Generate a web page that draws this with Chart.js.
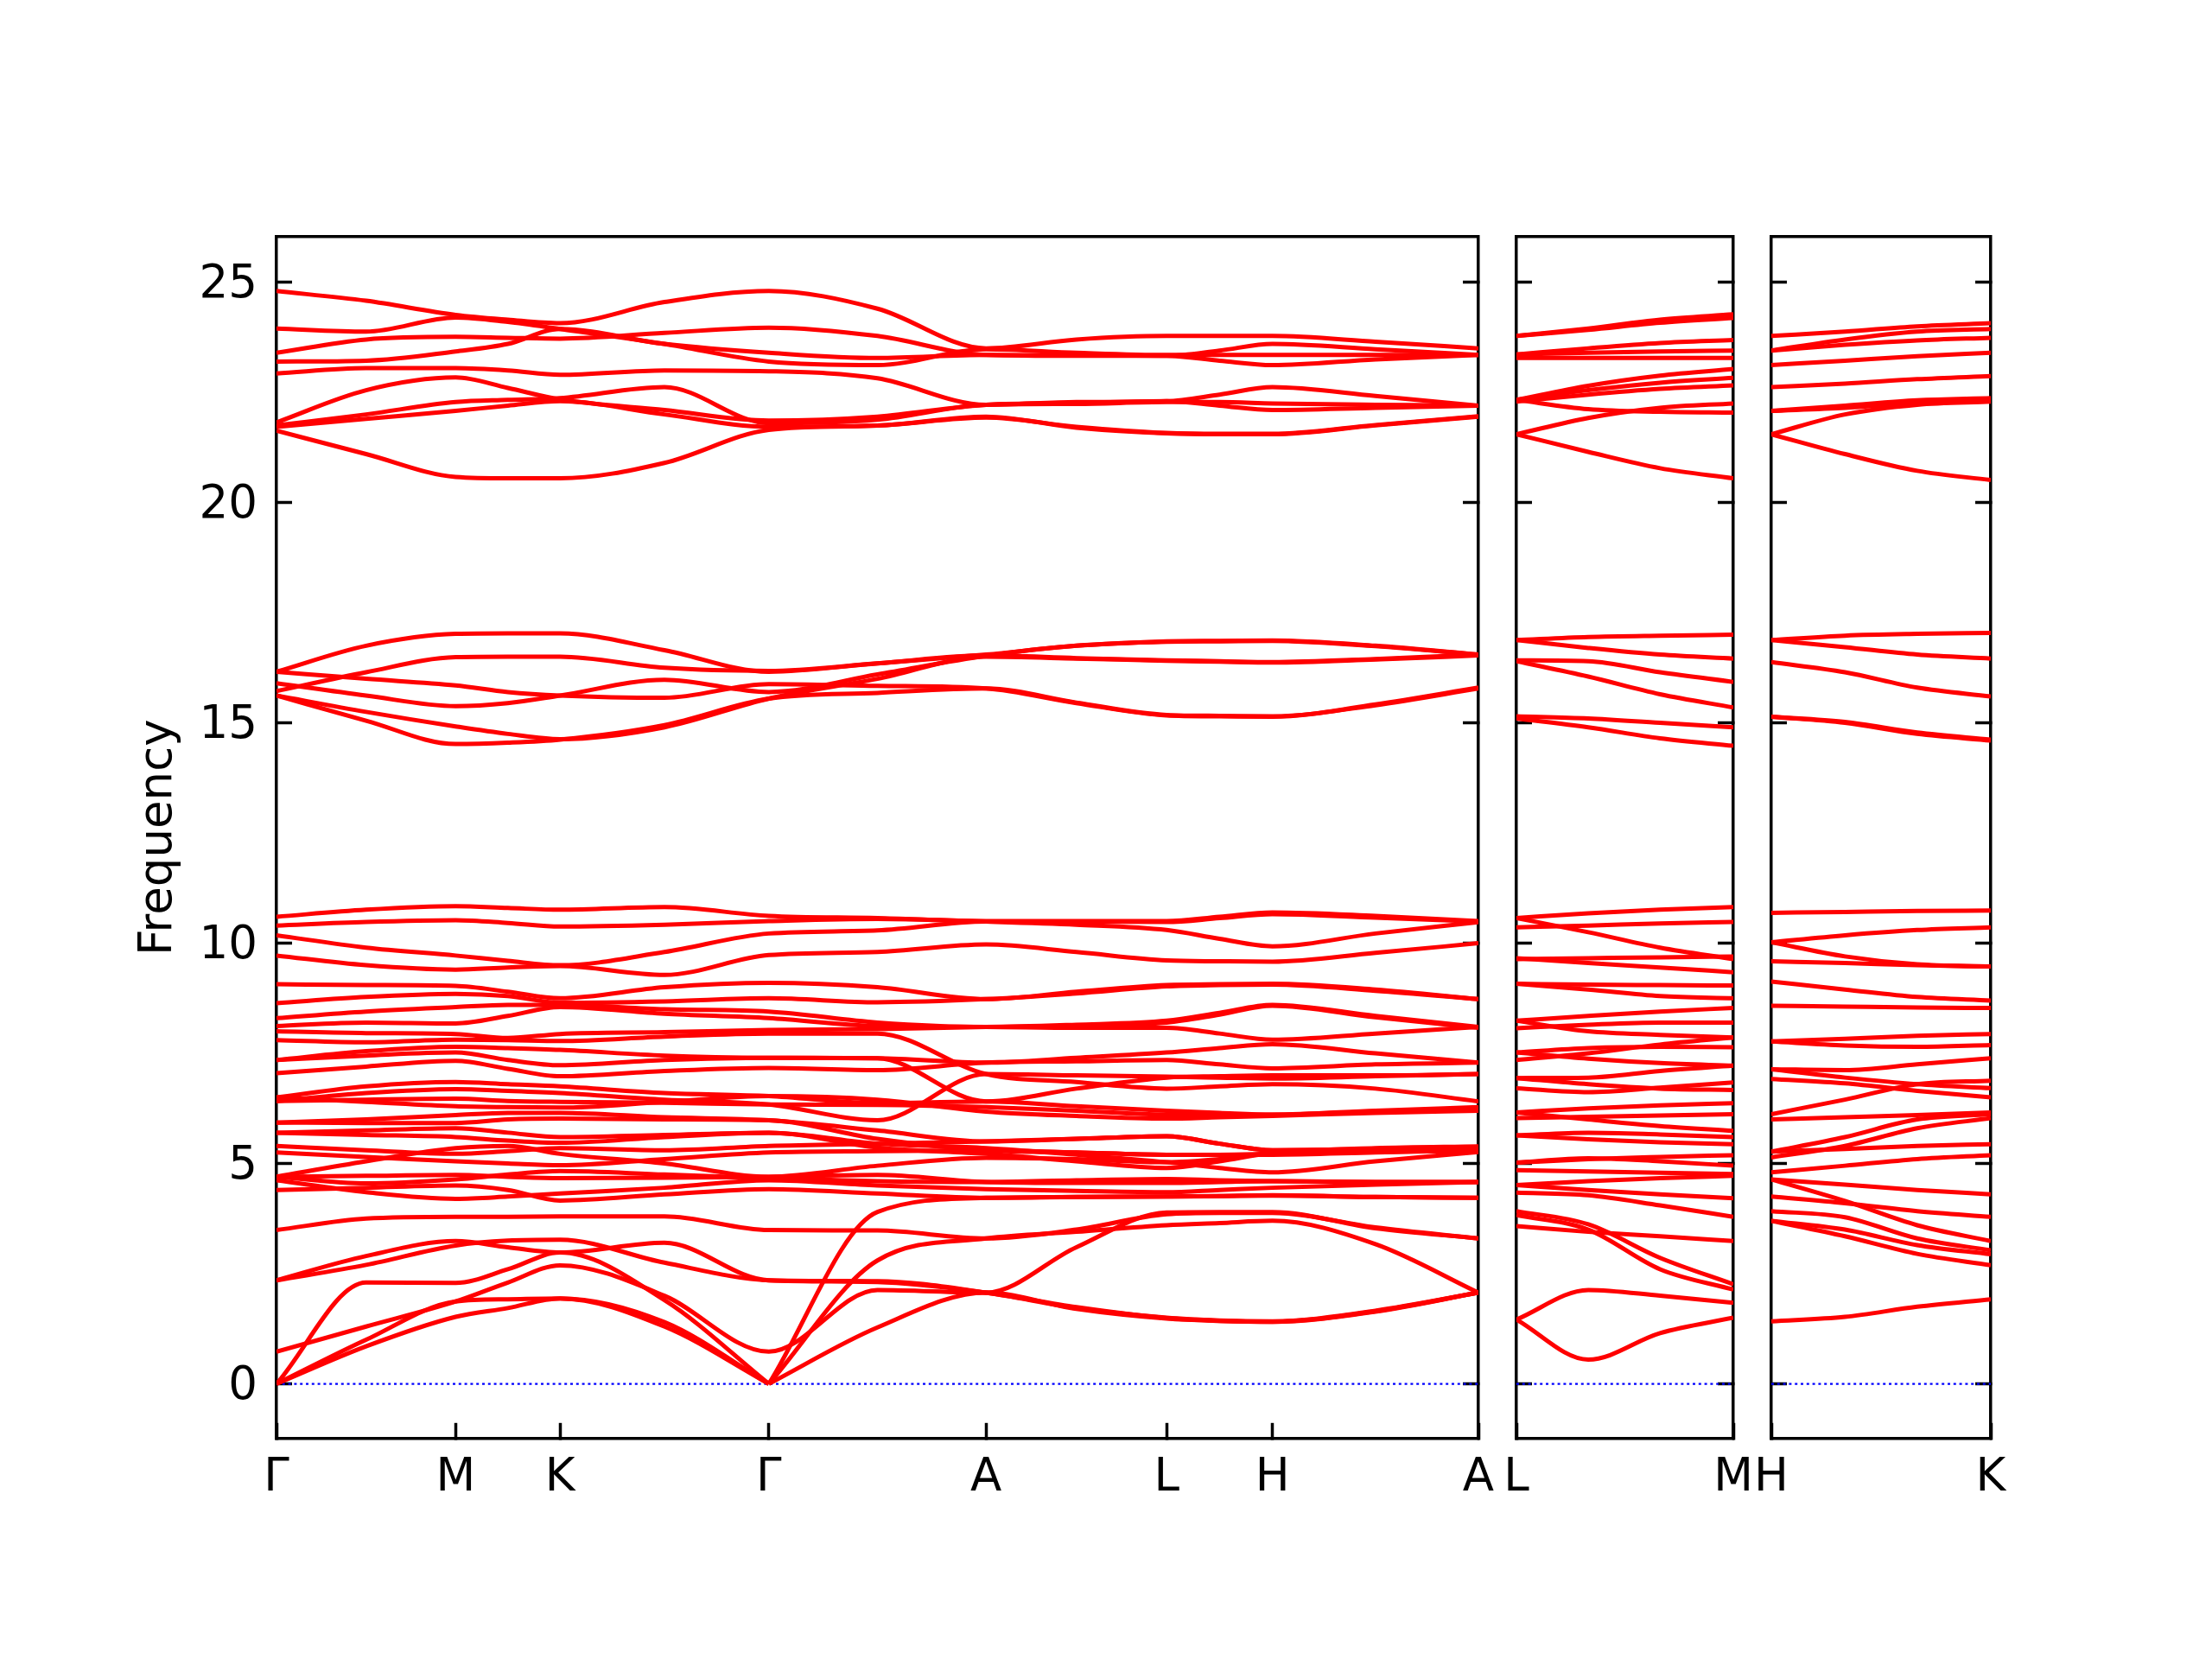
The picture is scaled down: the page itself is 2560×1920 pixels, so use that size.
<!DOCTYPE html>
<html>
<head>
<meta charset="utf-8">
<script src="https://cdn.jsdelivr.net/npm/chart.js@4.4.1/dist/chart.umd.min.js"></script>
<style>
  html, body { margin: 0; padding: 0; background: #fff; }
  #wrap { position: relative; width: 2560px; height: 1920px; background: #fff; }
  canvas { position: absolute; left: 0; top: 0; }
</style>
</head>
<body>
<div id="wrap">
  <canvas id="main" width="2560" height="1920"></canvas>
  <canvas id="lm" width="2560" height="1920"></canvas>
  <canvas id="hk" width="2560" height="1920"></canvas>
</div>
<script>
// frequency axis
const yMin = -1.24;
const yMax = 26.04;
const yTicks = [0, 5, 10, 15, 20, 25];

// main path: G-M-K-G-A-L-H-A (k distance of each sample)
const mainKnots = [0, 63.5, 127, 164, 201, 275, 349, 426, 503, 567, 631, 668.5, 706, 779, 852];
const mainTicks = [0, 127, 201, 349, 503, 631, 706, 852];
const mainLabels = ['Γ', 'M', 'K', 'Γ', 'A', 'L', 'H', 'A'];

// second path: L-M
const lmKnots = [0, 51, 102, 154];
const lmTicks = [0, 154];
const lmLabels = ['L', 'M'];

// third path: H-K
const hkKnots = [0, 52, 103, 155];
const hkTicks = [0, 155];
const hkLabels = ['H', 'K'];

// ---- main path bands, values at mainKnots ----
const mainHigh = [
  [24.80, 24.58, 24.26, 24.15, 24.07, 24.55, 24.80, 24.40, 23.50, 23.70, 23.78, 23.78, 23.78, 23.65, 23.50],
  [23.95, 23.88, 24.20, 24.10, 23.94, 23.60, 23.20, 23.12, 23.48, 23.40, 23.35, 23.35, 23.35, 23.35, 23.35],
  [23.40, 23.70, 23.76, 23.74, 23.72, 23.85, 23.97, 23.78, 23.35, 23.33, 23.33, 23.45, 23.60, 23.48, 23.35],
  [23.20, 23.22, 23.43, 23.60, 23.94, 23.60, 23.40, 23.28, 23.35, 23.34, 23.33, 23.22, 23.12, 23.25, 23.35],
  [22.93, 23.05, 23.05, 23.00, 22.90, 23.00, 22.98, 22.82, 22.22, 22.28, 22.30, 22.45, 22.62, 22.42, 22.20],
  [21.82, 22.55, 22.84, 22.60, 22.34, 22.10, 21.86, 21.95, 22.22, 22.26, 22.30, 22.20, 22.10, 22.15, 22.20],
  [21.75, 22.00, 22.28, 22.33, 22.37, 22.62, 21.80, 21.88, 22.22, 22.24, 22.28, 22.28, 22.25, 22.22, 22.20],
  [21.72, 21.90, 22.08, 22.20, 22.30, 22.00, 21.72, 21.75, 21.95, 21.70, 21.57, 21.55, 21.55, 21.75, 21.95],
  [21.63, 21.10, 20.58, 20.55, 20.55, 20.90, 21.65, 21.75, 21.93, 21.72, 21.58, 21.56, 21.56, 21.76, 21.96]
];

const mainMid = [
  [16.16, 16.75, 17.02, 17.03, 17.03, 16.65, 16.16, 16.35, 16.55, 16.75, 16.85, 16.86, 16.87, 16.75, 16.55],
  [15.72, 16.15, 16.49, 16.50, 16.50, 16.25, 16.18, 16.35, 16.53, 16.47, 16.42, 16.40, 16.38, 16.45, 16.55],
  [16.16, 16.00, 15.85, 15.70, 15.62, 15.57, 15.88, 15.84, 15.78, 15.45, 15.17, 15.15, 15.14, 15.42, 15.80],
  [15.90, 15.62, 15.38, 15.45, 15.62, 15.98, 15.70, 16.10, 16.52, 16.75, 16.84, 16.85, 16.86, 16.74, 16.55],
  [15.62, 15.25, 14.92, 14.75, 14.63, 14.90, 15.55, 16.00, 16.50, 16.46, 16.41, 16.39, 16.37, 16.44, 16.53],
  [15.62, 15.05, 14.52, 14.55, 14.62, 14.95, 15.55, 15.68, 15.78, 15.46, 15.18, 15.16, 15.15, 15.40, 15.78]
];

const mainLow = [
  [10.60, 10.76, 10.84, 10.80, 10.76, 10.82, 10.62, 10.57, 10.50, 10.50, 10.50, 10.60, 10.70, 10.62, 10.50],
  [10.40, 10.48, 10.52, 10.46, 10.38, 10.42, 10.50, 10.55, 10.49, 10.42, 10.30, 10.10, 9.93, 10.22, 10.48],
  [10.18, 9.90, 9.72, 9.60, 9.50, 9.80, 10.22, 10.29, 10.49, 10.49, 10.48, 10.57, 10.66, 10.58, 10.49],
  [9.72, 9.50, 9.40, 9.45, 9.48, 9.28, 9.73, 9.80, 9.97, 9.80, 9.61, 9.59, 9.58, 9.78, 10.00],
  [9.07, 9.05, 9.03, 8.90, 8.75, 9.00, 9.10, 9.00, 8.73, 8.90, 9.05, 9.07, 9.08, 8.95, 8.73],
  [8.64, 8.78, 8.85, 8.80, 8.65, 8.68, 8.75, 8.66, 8.73, 8.86, 9.02, 9.05, 9.06, 8.92, 8.73],
  [8.30, 8.45, 8.55, 8.60, 8.60, 8.50, 8.45, 8.20, 8.10, 8.15, 8.24, 8.42, 8.60, 8.35, 8.10],
  [8.12, 8.20, 8.18, 8.35, 8.55, 8.40, 8.30, 8.12, 8.10, 8.08, 8.08, 7.95, 7.81, 7.95, 8.10],
  [8.00, 7.96, 7.94, 7.85, 7.94, 7.98, 8.03, 8.05, 8.10, 8.12, 8.20, 8.38, 8.58, 8.32, 8.08],
  [7.80, 7.75, 7.81, 7.80, 7.78, 7.88, 7.95, 7.95, 7.03, 6.85, 6.70, 6.75, 6.80, 6.70, 6.41],
  [7.35, 7.45, 7.52, 7.35, 7.23, 7.35, 7.40, 7.39, 6.41, 6.70, 6.95, 6.98, 7.00, 7.00, 7.03],
  [7.05, 7.20, 7.33, 7.15, 6.98, 7.10, 7.17, 7.12, 7.29, 7.32, 7.35, 7.25, 7.16, 7.25, 7.29],
  [6.50, 6.75, 6.85, 6.80, 6.75, 6.60, 6.53, 6.37, 6.41, 6.30, 6.20, 6.15, 6.11, 6.20, 6.28],
  [6.42, 6.60, 6.69, 6.65, 6.60, 6.45, 6.34, 5.98, 7.03, 7.00, 6.97, 6.95, 6.93, 6.98, 7.03],
  [7.35, 7.55, 7.65, 7.62, 7.58, 7.45, 7.40, 7.39, 7.29, 7.40, 7.52, 7.62, 7.71, 7.50, 7.29],
  [6.42, 6.45, 6.47, 6.42, 6.40, 6.38, 6.34, 6.33, 6.28, 6.20, 6.11, 6.11, 6.11, 6.18, 6.24],
  [6.50, 6.40, 6.30, 6.28, 6.27, 6.40, 6.53, 6.45, 6.18, 6.08, 6.02, 6.05, 6.08, 6.15, 6.20],
  [5.93, 6.00, 6.10, 6.15, 6.15, 6.05, 5.98, 5.75, 5.50, 5.56, 5.62, 5.45, 5.30, 5.32, 5.36],
  [5.93, 5.92, 5.92, 6.00, 6.02, 6.00, 5.98, 5.56, 5.30, 5.25, 5.20, 5.20, 5.20, 5.25, 5.30],
  [5.70, 5.75, 5.80, 5.70, 5.60, 5.65, 5.70, 5.45, 5.35, 5.20, 5.03, 4.90, 4.80, 5.05, 5.26],
  [5.70, 5.65, 5.60, 5.52, 5.47, 5.60, 5.70, 5.36, 5.22, 5.05, 4.90, 5.05, 5.24, 5.35, 5.39],
  [5.40, 5.30, 5.22, 5.28, 5.35, 5.30, 5.40, 5.45, 5.50, 5.56, 5.62, 5.45, 5.30, 5.33, 5.36],
  [5.25, 5.15, 5.05, 5.00, 4.96, 5.10, 5.25, 5.28, 5.30, 5.25, 5.20, 5.20, 5.22, 5.26, 5.30],
  [4.70, 5.05, 5.35, 5.40, 5.22, 5.00, 4.70, 4.95, 5.13, 5.10, 5.03, 5.10, 5.24, 5.30, 5.26],
  [4.70, 4.72, 4.74, 4.70, 4.67, 4.68, 4.70, 4.74, 4.58, 4.56, 4.56, 4.58, 4.60, 4.58, 4.58],
  [4.62, 4.35, 4.20, 4.25, 4.32, 4.45, 4.62, 4.50, 4.42, 4.38, 4.35, 4.40, 4.45, 4.52, 4.58],
  [4.40, 4.45, 4.50, 4.40, 4.16, 4.30, 4.42, 4.32, 4.22, 4.24, 4.25, 4.26, 4.27, 4.24, 4.22],
  [4.70, 4.55, 4.64, 4.75, 4.83, 4.75, 4.67, 4.60, 4.58, 4.62, 4.65, 4.62, 4.60, 4.58, 4.58],
  [3.49, 3.75, 3.79, 3.79, 3.80, 3.80, 3.49, 3.48, 3.30, 3.50, 3.85, 3.88, 3.88, 3.55, 3.30],
  [2.35, 2.90, 3.24, 3.10, 2.98, 3.20, 2.35, 2.33, 2.07, 1.72, 1.50, 1.44, 1.42, 1.66, 2.07],
  [2.35, 2.70, 3.14, 3.25, 3.27, 2.75, 2.35, 2.31, 2.07, 1.74, 1.49, 1.43, 1.41, 1.64, 2.07],
  [0.73, 1.30, 1.87, 2.30, 2.69, 2.00, 0.73, 2.13, 2.07, 3.10, 3.89, 3.90, 3.90, 3.53, 3.30],
  [0.00, 0.85, 1.52, 1.72, 1.94, 1.30, 0.00, 1.28, 2.07, 1.70, 1.48, 1.43, 1.41, 1.65, 2.07],
  [0.00, 1.00, 1.87, 1.92, 1.94, 1.40, 0.00, 2.80, 3.30, 3.45, 3.60, 3.65, 3.70, 3.17, 2.07],
  [0.00, 2.30, 2.29, 2.60, 2.98, 1.90, 0.00, 3.90, 4.22, 4.24, 4.25, 4.26, 4.28, 4.24, 4.22]
];

// ---- L-M bands, values at lmKnots ----
const lmHigh = [
  [23.78, 23.95, 24.15, 24.27],
  [23.78, 23.92, 24.08, 24.19],
  [23.36, 23.50, 23.62, 23.69],
  [23.36, 23.40, 23.43, 23.45],
  [23.28, 23.28, 23.28, 23.28],
  [22.33, 22.65, 22.88, 23.03],
  [22.33, 22.55, 22.72, 22.83],
  [22.29, 22.45, 22.58, 22.66],
  [22.33, 22.12, 22.06, 22.04],
  [21.55, 21.92, 22.15, 22.25],
  [21.55, 21.15, 20.78, 20.55]
];

const lmMid = [
  [16.88, 16.95, 16.98, 17.00],
  [16.88, 16.70, 16.55, 16.46],
  [16.42, 16.40, 16.15, 15.93],
  [16.40, 16.05, 15.65, 15.35],
  [15.15, 15.10, 15.00, 14.90],
  [15.10, 14.90, 14.65, 14.48]
];

const lmLow = [
  [10.57, 10.68, 10.76, 10.82],
  [10.36, 10.40, 10.45, 10.48],
  [10.57, 10.25, 9.90, 9.64],
  [9.66, 9.55, 9.45, 9.34],
  [9.64, 9.66, 9.68, 9.70],
  [9.08, 9.06, 9.05, 9.04],
  [9.08, 8.95, 8.80, 8.75],
  [8.24, 8.35, 8.45, 8.53],
  [8.07, 8.15, 8.20, 8.20],
  [8.24, 8.00, 7.92, 7.86],
  [7.52, 7.62, 7.65, 7.64],
  [7.35, 7.50, 7.70, 7.86],
  [7.52, 7.38, 7.28, 7.22],
  [6.94, 6.95, 7.10, 7.22],
  [6.71, 6.62, 6.72, 6.84],
  [6.94, 6.80, 6.70, 6.67],
  [6.16, 6.25, 6.32, 6.37],
  [6.03, 6.06, 6.09, 6.12],
  [6.16, 6.00, 5.85, 5.74],
  [5.64, 5.55, 5.48, 5.44],
  [5.64, 5.70, 5.66, 5.60],
  [5.02, 5.10, 5.15, 5.19],
  [5.02, 5.12, 5.05, 4.95],
  [4.85, 4.82, 4.79, 4.76],
  [4.51, 4.60, 4.67, 4.72],
  [4.51, 4.40, 4.30, 4.21],
  [4.34, 4.28, 4.05, 3.79],
  [3.92, 3.62, 2.86, 2.26],
  [3.83, 3.50, 2.60, 2.14],
  [3.58, 3.45, 3.35, 3.24],
  [1.46, 2.13, 2.00, 1.84],
  [1.46, 0.55, 1.15, 1.50]
];

// ---- H-K bands, values at hkKnots ----
const hkHigh = [
  [23.78, 23.88, 24.00, 24.07],
  [23.45, 23.70, 23.88, 23.94],
  [23.45, 23.58, 23.68, 23.74],
  [23.12, 23.22, 23.32, 23.40],
  [22.62, 22.70, 22.80, 22.87],
  [22.08, 22.20, 22.32, 22.37],
  [22.08, 22.15, 22.25, 22.30],
  [21.55, 22.00, 22.22, 22.29],
  [21.55, 21.10, 20.72, 20.51]
];

const hkMid = [
  [16.88, 16.98, 17.02, 17.04],
  [16.88, 16.72, 16.55, 16.46],
  [16.38, 16.15, 15.80, 15.60],
  [15.14, 15.00, 14.75, 14.60],
  [15.14, 15.02, 14.78, 14.62]
];

const hkLow = [
  [10.69, 10.71, 10.73, 10.74],
  [10.02, 10.18, 10.30, 10.36],
  [10.02, 9.70, 9.52, 9.47],
  [9.59, 9.55, 9.50, 9.47],
  [9.13, 8.95, 8.78, 8.70],
  [8.58, 8.56, 8.54, 8.53],
  [7.77, 7.83, 7.90, 7.94],
  [7.77, 7.68, 7.65, 7.69],
  [7.14, 7.12, 7.25, 7.39],
  [6.92, 6.82, 6.65, 6.50],
  [7.14, 6.95, 6.80, 6.71],
  [6.12, 6.45, 6.80, 6.88],
  [6.00, 6.05, 6.10, 6.16],
  [5.27, 5.60, 6.00, 6.12],
  [5.27, 5.33, 5.40, 5.44],
  [5.14, 5.40, 5.80, 6.03],
  [4.80, 4.95, 5.10, 5.19],
  [4.64, 4.52, 4.40, 4.30],
  [4.64, 4.15, 3.60, 3.24],
  [4.25, 4.10, 3.92, 3.79],
  [3.92, 3.78, 3.30, 3.03],
  [3.70, 3.50, 3.15, 2.94],
  [3.70, 3.35, 2.95, 2.69],
  [1.42, 1.52, 1.75, 1.92]
];

Chart.defaults.font.family = "'DejaVu Sans', sans-serif";
Chart.defaults.color = '#000';

const PLOT_TOP = 273.6;
const PLOT_BOTTOM = 1664.8;
const FONT_PX = 53;

// acoustic branches are linear at Gamma, so break the curve there
function bandPoints(knots, values, gammaIdx) {
  const pts = [];
  values.forEach((v, i) => {
    pts.push({ x: knots[i], y: v });
    if (i === gammaIdx && v === 0) {
      pts.push({ x: knots[i], y: null });
      pts.push({ x: knots[i], y: v });
    }
  });
  return pts;
}

function makePanel(id, left, right, knots, ticks, labels, bands, gammaIdx, showY) {
  const datasets = bands.map((b) => ({
    data: bandPoints(knots, b, gammaIdx),
    borderColor: 'rgb(255, 0, 0)',
    borderWidth: 5,
    pointRadius: 0,
    cubicInterpolationMode: 'monotone',
    fill: false,
    xAxisID: 'x',
    yAxisID: 'y'
  }));
  // zero line
  datasets.push({
    data: [{ x: knots[0], y: 0 }, { x: knots[knots.length - 1], y: 0 }],
    borderColor: '#0000ff',
    borderWidth: 2.2,
    borderDash: [3, 3.8],
    pointRadius: 0,
    tension: 0,
    fill: false,
    xAxisID: 'x',
    yAxisID: 'y'
  });

  const frame = { display: true, color: '#000', width: 3.5 };
  const inward = { drawOnChartArea: false, drawTicks: true, tickLength: -18, tickWidth: 3.5, tickColor: '#000' };
  const setY = (s) => { s.ticks = yTicks.map((v) => ({ value: v })); };
  const xMin = knots[0];
  const xMax = knots[knots.length - 1];
  const yWidth = showY ? left : 0;

  return new Chart(document.getElementById(id), {
    type: 'line',
    data: { datasets },
    options: {
      responsive: false,
      animation: false,
      devicePixelRatio: 1,
      layout: {
        autoPadding: false,
        padding: { left: left - yWidth, right: 2560 - right, top: PLOT_TOP, bottom: 0 }
      },
      plugins: { legend: { display: false }, tooltip: { enabled: false } },
      scales: {
        x: {
          type: 'linear', position: 'bottom', min: xMin, max: xMax,
          afterBuildTicks: (s) => { s.ticks = ticks.map((v) => ({ value: v })); },
          ticks: {
            autoSkip: false, maxRotation: 0, padding: 33, color: '#000',
            font: { size: FONT_PX },
            callback: (v, i) => labels[i]
          },
          grid: inward,
          border: frame,
          afterFit: (s) => { s.height = 1920 - PLOT_BOTTOM; }
        },
        x2: {
          type: 'linear', position: 'top', min: xMin, max: xMax,
          ticks: { display: false },
          grid: { drawOnChartArea: false, drawTicks: false },
          border: frame,
          afterFit: (s) => { s.height = 0; }
        },
        y: {
          type: 'linear', position: 'left', min: yMin, max: yMax,
          afterBuildTicks: setY,
          ticks: { display: showY, padding: 40, labelOffset: 4, color: '#000', font: { size: FONT_PX } },
          grid: inward,
          border: frame,
          title: {
            display: showY, text: 'Frequency', color: '#000',
            font: { size: FONT_PX }, padding: { top: 152, bottom: 0 }
          },
          afterFit: (s) => { s.width = yWidth; }
        },
        y2: {
          type: 'linear', position: 'right', min: yMin, max: yMax,
          afterBuildTicks: setY,
          ticks: { display: false },
          grid: inward,
          border: frame,
          afterFit: (s) => { s.width = 0; }
        }
      }
    }
  });
}

makePanel('main', 320, 1711, mainKnots, mainTicks, mainLabels,
  [...mainHigh, ...mainMid, ...mainLow], 6, true);
makePanel('lm', 1755, 2006, lmKnots, lmTicks, lmLabels,
  [...lmHigh, ...lmMid, ...lmLow], -1, false);
makePanel('hk', 2050, 2304, hkKnots, hkTicks, hkLabels,
  [...hkHigh, ...hkMid, ...hkLow], -1, false);
</script>
</body>
</html>
